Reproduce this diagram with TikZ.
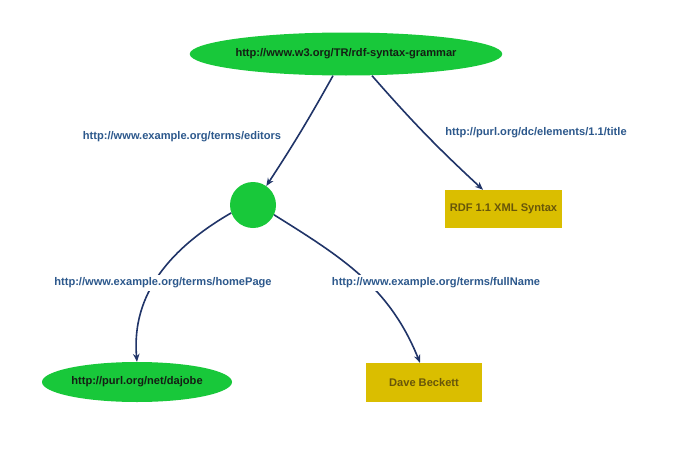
\documentclass[tikz,border=0pt]{standalone}
\usepackage{fontspec}
\setmainfont{Liberation Sans}
\usetikzlibrary{shapes.geometric,arrows.meta}
\definecolor{rdfgreen}{RGB}{24,200,58}
\definecolor{rdfgold}{RGB}{218,190,0}
\definecolor{edgecol}{RGB}{32,52,104}
\definecolor{labcol}{RGB}{44,88,140}
\definecolor{littext}{RGB}{104,86,10}
\definecolor{restext}{RGB}{20,30,20}
\tikzset{
  resnode/.style={ellipse, fill=rdfgreen, draw=none, inner sep=0pt, font=\fontsize{11.1}{13}\selectfont\bfseries, text=restext},
  blanknode/.style={circle, fill=rdfgreen, draw=none, minimum size=46pt, inner sep=0pt},
  litnode/.style={rectangle, fill=rdfgold, draw=none, inner sep=0pt, font=\fontsize{11.1}{13}\selectfont\bfseries, text=littext},
  edgeline/.style={draw=edgecol, line width=1.6pt, -{Stealth[length=8pt,width=6.5pt]}},
  edgelab/.style={font=\fontsize{11.1}{13}\selectfont\bfseries, text=labcol, inner sep=1pt},
  whitelab/.style={edgelab, fill=white, inner sep=3pt}
}
\begin{document}
\begin{tikzpicture}[x=1pt,y=-1pt]
\useasboundingbox[fill=white] (0,0) rectangle (683,463);
\node[resnode, minimum width=308pt, minimum height=43pt] (top) at (346,54) {http://www.w3.org/TR/rdf-syntax-grammar};
\node[blanknode] (bn) at (253,205) {};
\node[litnode, minimum width=117pt, minimum height=38pt] (title) at (503.5,209) {RDF 1.1 XML Syntax};
\node[resnode, minimum width=190pt, minimum height=40pt] (dajobe) at (137,382) {http://purl.org/net/dajobe};
\node[litnode, minimum width=116pt, minimum height=39pt] (dave) at (424,382.5) {Dave Beckett};

\draw[edgeline] ([xshift=-13pt]top.south) to[bend left=2] (bn.55);
\draw[edgeline] ([xshift=26pt]top.south) to[bend right=3] ([xshift=-20.5pt]title.north);
\draw[edgeline] (bn.200) to[out=210,in=95] (dajobe.north);
\draw[edgeline] (bn.-25) to[out=-32,in=112] ([xshift=-4pt]dave.north);

\node[edgelab] (l1) at (182,137) {http://www.example.org/terms/editors};
\node[edgelab] (l2) at (536,133) {http://purl.org/dc/elements/1.1/title};
\node[whitelab] (l3) at (163,283) {http://www.example.org/terms/homePage};
\node[whitelab] (l4) at (436,283) {http://www.example.org/terms/fullName};
\end{tikzpicture}
\end{document}
